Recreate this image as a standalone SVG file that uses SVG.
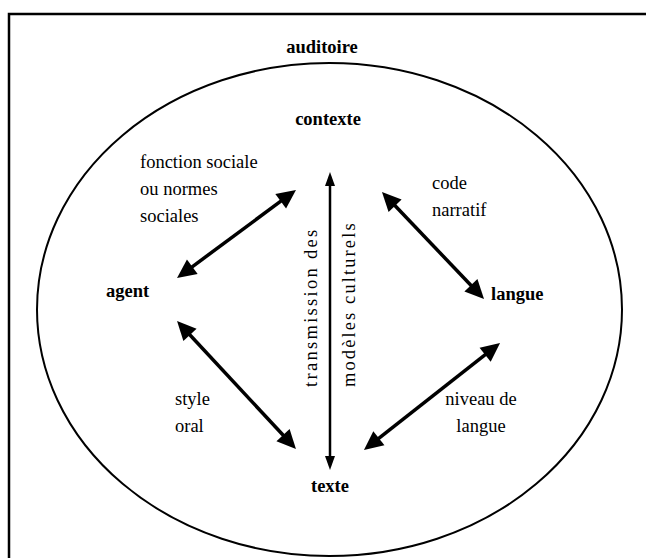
<svg xmlns="http://www.w3.org/2000/svg" width="646" height="558" viewBox="0 0 646 558">
<style>
text{font-family:'Liberation Serif','Times New Roman',serif;font-size:18.5px;fill:#000}
.b{font-weight:bold}
.thick{stroke:#000;stroke-width:3.5;fill:none;marker-start:url(#ah);marker-end:url(#ah)}
.thin{stroke:#000;stroke-width:2.5;fill:none;marker-start:url(#sh);marker-end:url(#sh)}
</style>
<defs>
<marker id="ah" markerUnits="userSpaceOnUse" markerWidth="20" markerHeight="18" refX="1" refY="9" orient="auto-start-reverse" overflow="visible"><path d="M0,0 L19,9 L0,18 z" fill="#000"/></marker>
<marker id="sh" markerUnits="userSpaceOnUse" markerWidth="14" markerHeight="10" refX="1" refY="5" orient="auto-start-reverse" overflow="visible"><path d="M0,0 L14,5 L0,10 z" fill="#000"/></marker>
</defs>
<rect width="646" height="558" fill="#fff"/>
<path d="M9,600 V14 H700" stroke="#000" stroke-width="2.5" fill="none"/>
<g id="auditoire">
<ellipse cx="329.5" cy="309.5" rx="292.5" ry="246.5" fill="none" stroke="#000" stroke-width="2"/>
<text class="b" x="322" y="53" text-anchor="middle">auditoire</text>
</g>
<g id="contexte"><text class="b" x="328" y="125" text-anchor="middle">contexte</text></g>
<g id="agent"><text class="b" x="106" y="297">agent</text></g>
<g id="langue"><text class="b" x="491" y="300">langue</text></g>
<g id="texte"><text class="b" x="330" y="492" text-anchor="middle">texte</text></g>
<g id="connectors">
<line class="thick" x1="191.5" y1="267.3" x2="281.5" y2="200.7"/>
<line class="thick" x1="394.4" y1="205" x2="471.6" y2="286"/>
<line class="thick" x1="189.3" y1="334.2" x2="283.7" y2="435.8"/>
<line class="thick" x1="485.9" y1="354.1" x2="378.1" y2="438.9"/>
<line class="thin" x1="330" y1="185" x2="330" y2="457"/>
</g>
<g id="labels">
<text x="140" y="168">fonction sociale</text>
<text x="140" y="195">ou normes</text>
<text x="140" y="222">sociales</text>
<text x="432" y="189">code</text>
<text x="432" y="216">narratif</text>
<text x="175" y="405">style</text>
<text x="175" y="432">oral</text>
<text x="481" y="405" text-anchor="middle">niveau de</text>
<text x="481" y="432" text-anchor="middle">langue</text>
<text transform="translate(317,387) rotate(-90)" letter-spacing="2.3">transmission des</text>
<text transform="translate(355,387) rotate(-90)" letter-spacing="2.1">modèles culturels</text>
</g>
</svg>
